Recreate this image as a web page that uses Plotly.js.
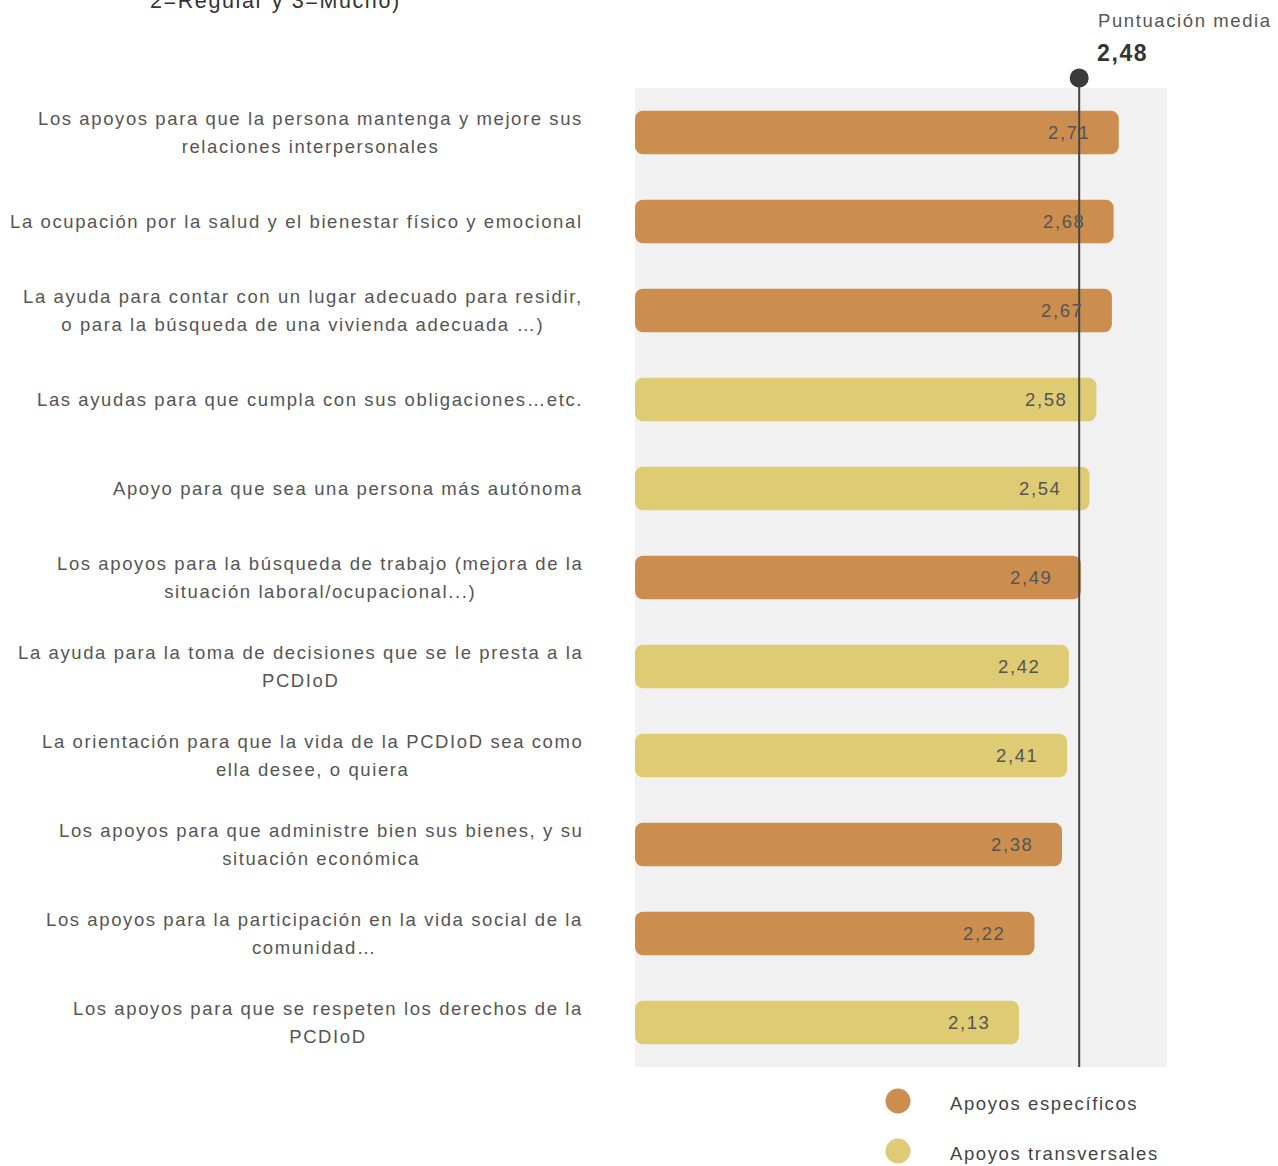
<!DOCTYPE html>
<html>
<head>
<meta charset="utf-8">
<script src="https://cdn.plot.ly/plotly-3.0.1.min.js"></script>
<style>
html, body { margin: 0; padding: 0; background: #fff; }
#chart { width: 1278px; height: 1166px; }
text.annotation-text { letter-spacing: 1.6px; }
</style>
</head>
<body>
<div id="chart"></div>
<script>
// ---- data ----
const categories = [
  "Los apoyos para que la persona mantenga y mejore sus<br>relaciones interpersonales",
  "La ocupación por la salud y el bienestar físico y emocional",
  "La ayuda para contar con un lugar adecuado para residir,<br>o para la búsqueda de una vivienda adecuada …)",
  "Las ayudas para que cumpla con sus obligaciones…etc.",
  "Apoyo para que sea una persona más autónoma",
  "Los apoyos para la búsqueda de trabajo (mejora de la<br>situación laboral/ocupacional...)",
  "La ayuda para la toma de decisiones que se le presta a la<br>PCDIoD",
  "La orientación para que la vida de la PCDIoD sea como<br>ella desee, o quiera",
  "Los apoyos para que administre bien sus bienes, y su<br>situación económica",
  "Los apoyos para la participación en la vida social de la<br>comunidad…",
  "Los apoyos para que se respeten los derechos de la<br>PCDIoD"
];
const scores = [2.71, 2.68, 2.67, 2.58, 2.54, 2.49, 2.42, 2.41, 2.38, 2.22, 2.13];
const groups = ["esp", "esp", "esp", "trans", "trans", "esp", "trans", "trans", "esp", "esp", "trans"];
const groupNames = { esp: "Apoyos específicos", trans: "Apoyos transversales" };
const meanScore = 2.48;
const meanTitle = "Puntuación media";
const topNote = "2=Regular y 3=Mucho)";

// ---- styling ----
const colors = { esp: "#CB8E4E", trans: "#DFCB74" };
const XMIN = -0.1, XMAX = 2.99;
const fmt = v => v.toFixed(2).replace(".", ",");
const FONT = "Liberation Sans, Arial, sans-serif";
const TXT = "#555555";

const ids = categories.map((c, i) => "c" + i);

const trace = {
  type: "bar",
  orientation: "h",
  y: ids,
  x: scores.map(v => v - XMIN),
  base: XMIN,
  width: 0.49,
  marker: { color: groups.map(g => colors[g]), cornerradius: 8, line: { width: 0 } },
  hoverinfo: "skip",
  showlegend: false
};

const annotations = [];
categories.forEach((c, i) => {
  const txt = c.split("<br>").map(l => '<span style="font-size:18.5px">' + l + '</span>').join("<br>");
  annotations.push({
    xref: "paper", yref: "y", x: -0.094, y: ids[i],
    xanchor: "right", yanchor: "middle", align: "center",
    text: txt, showarrow: false,
    font: { family: FONT, size: 21.5, color: TXT }
  });
  annotations.push({
    xref: "x", yref: "y", x: scores[i], y: ids[i],
    xanchor: "right", yanchor: "middle", xshift: -27,
    text: fmt(scores[i]), showarrow: false,
    font: { family: FONT, size: 18.5, color: TXT }
  });
});
annotations.push({
  xref: "paper", yref: "paper", x: (1096 - 635) / 532, y: 1 + (88 - 21) / 979,
  xanchor: "left", yanchor: "middle", text: meanTitle, showarrow: false,
  font: { family: FONT, size: 18.5, color: TXT }
});
annotations.push({
  xref: "paper", yref: "paper", x: (1095 - 635) / 532, y: 1 + (88 - 53) / 979,
  xanchor: "left", yanchor: "middle", text: "<b>" + fmt(meanScore) + "</b>", showarrow: false,
  font: { family: FONT, size: 23, color: "#333333" }
});
annotations.push({
  xref: "paper", yref: "paper", x: (275 - 635) / 532, y: 1 + (88 - 1) / 979,
  xanchor: "center", yanchor: "middle", text: topNote, showarrow: false,
  font: { family: FONT, size: 21.5, color: "#333333" }
});
// legend
const legendKeys = ["esp", "trans"];
const shapes = [];
legendKeys.forEach((k, i) => {
  const cy = 1101 + i * 50;
  shapes.push({
    type: "circle", xref: "paper", yref: "paper",
    xsizemode: "pixel", ysizemode: "pixel",
    xanchor: (898 - 635) / 532, yanchor: 1 - (cy - 88) / 979,
    x0: -12.5, x1: 12.5, y0: -12.5, y1: 12.5,
    fillcolor: colors[k], line: { width: 0 }
  });
  annotations.push({
    xref: "paper", yref: "paper", x: (948 - 635) / 532, y: 1 - (cy + 2 - 88) / 979,
    xanchor: "left", yanchor: "middle", text: groupNames[k], showarrow: false,
    font: { family: FONT, size: 18.5, color: "#444444" }
  });
});
// mean line and dot
shapes.push({
  type: "line", xref: "x", yref: "paper", x0: meanScore, x1: meanScore,
  y0: 0, y1: 1 + 10 / 979, line: { color: "#444444", width: 2 }
});
shapes.push({
  type: "circle", xref: "x", yref: "paper",
  xsizemode: "pixel", ysizemode: "pixel",
  xanchor: meanScore, yanchor: 1 + 10 / 979,
  x0: -9.5, x1: 9.5, y0: -9.5, y1: 9.5,
  fillcolor: "#3a3a3a", line: { width: 0 }
});

const layout = {
  width: 1278, height: 1166,
  margin: { l: 635, r: 111, t: 88, b: 99 },
  paper_bgcolor: "#ffffff",
  plot_bgcolor: "#f1f1f1",
  xaxis: { range: [XMIN, XMAX], showgrid: false, zeroline: false, showticklabels: false, ticks: "", fixedrange: true },
  yaxis: { type: "category", autorange: false, range: [categories.length - 0.5, -0.5], showgrid: false, zeroline: false, showticklabels: false, ticks: "" },
  showlegend: false,
  annotations: annotations,
  shapes: shapes,
  bargap: 0.5
};

Plotly.newPlot("chart", [trace], layout, { displayModeBar: false, staticPlot: true });
</script>
</body>
</html>
